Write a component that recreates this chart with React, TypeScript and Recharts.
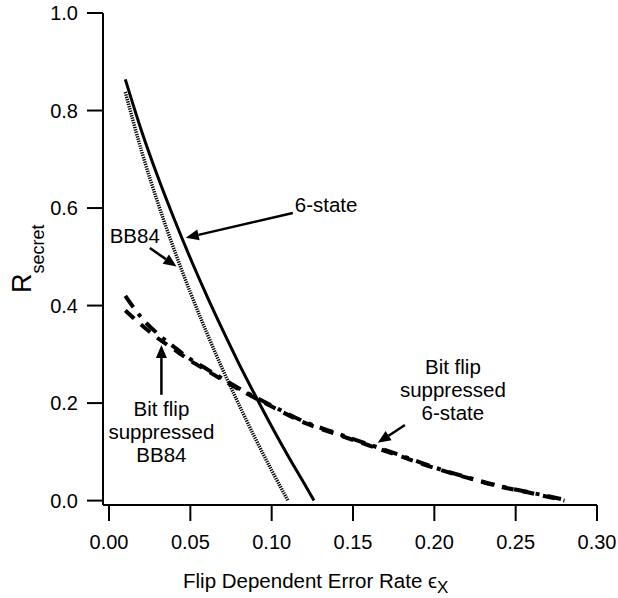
import React from 'react';
import { LineChart, Line, XAxis, YAxis, ReferenceLine, ReferenceDot } from 'recharts';

// x ticks / y ticks
const xTicks = [0, 0.05, 0.1, 0.15, 0.2, 0.25, 0.3];
const yTicks = [0, 0.2, 0.4, 0.6, 0.8, 1.0];

// 6-state (solid)
const sixX = [0.01, 0.02, 0.03, 0.04, 0.05, 0.06, 0.07, 0.08, 0.09, 0.1, 0.11, 0.12, 0.126];
const sixY = [0.864, 0.758, 0.664, 0.578, 0.497, 0.421, 0.349, 0.28, 0.215, 0.152, 0.092, 0.035, 0.0];

// BB84 (dotted)
const bbX = [0.01, 0.02, 0.03, 0.04, 0.05, 0.06, 0.07, 0.08, 0.09, 0.1, 0.11];
const bbY = [0.838, 0.717, 0.611, 0.515, 0.427, 0.345, 0.268, 0.196, 0.127, 0.062, 0.0];

// bit flip suppressed 6-state (dash-dot)
const bfSixX = [0.01, 0.02, 0.03, 0.04, 0.05, 0.06, 0.08, 0.1, 0.12, 0.14, 0.16, 0.18, 0.2, 0.22, 0.24, 0.26, 0.2825];
const bfSixY = [0.42, 0.375, 0.342, 0.315, 0.29, 0.27, 0.23, 0.195, 0.162, 0.138, 0.115, 0.092, 0.068, 0.048, 0.03, 0.016, 0.0];

// bit flip suppressed BB84 (dashed)
const bfBbX = [0.01, 0.02, 0.03, 0.04, 0.05, 0.06, 0.08, 0.1, 0.12, 0.14, 0.16, 0.18, 0.2, 0.22, 0.24, 0.26, 0.28];
const bfBbY = [0.39, 0.36, 0.333, 0.31, 0.287, 0.267, 0.228, 0.193, 0.16, 0.136, 0.113, 0.09, 0.067, 0.047, 0.029, 0.015, 0.0];

const toPoints = (xs: number[], ys: number[]) => xs.map((x, i) => ({ x, y: ys[i] }));

const FONT = 'Liberation Sans, Arial, Helvetica, sans-serif';

const Arrow = (props: any) => {
  const { x1, y1, x2, y2 } = props;
  const a = Math.atan2(y2 - y1, x2 - x1);
  const L = 13;
  const W = 5.5;
  const bx = x2 - L * Math.cos(a);
  const by = y2 - L * Math.sin(a);
  const p1 = `${bx + W * Math.sin(a)},${by - W * Math.cos(a)}`;
  const p2 = `${bx - W * Math.sin(a)},${by + W * Math.cos(a)}`;
  return (
    <g>
      <line x1={x1} y1={y1} x2={bx} y2={by} stroke="#000" strokeWidth={2.5} />
      <polygon points={`${x2},${y2} ${p1} ${p2}`} fill="#000" />
    </g>
  );
};

const textShape = (lines: string[], anchor: string) => (p: any) => (
  <text x={p.cx} y={p.cy} textAnchor={anchor} fontFamily={FONT} fontSize={20.5} fill="#000">
    {lines.map((t, i) => (
      <tspan key={i} x={p.cx} dy={i === 0 ? '0.35em' : 23}>{t}</tspan>
    ))}
  </text>
);

const YLabel = () => (
  <text transform="translate(31,293) rotate(-90)" fontFamily={FONT} fill="#000">
    <tspan fontSize={27}>R</tspan>
    <tspan fontSize={18} dy={13}>secret</tspan>
  </text>
);

const XLabel = () => (
  <text x={183} y={588} fontFamily={FONT} fontSize={20.5} fill="#000">
    <tspan>Flip Dependent Error Rate ϵ</tspan>
    <tspan fontSize={17} dy={5}>X</tspan>
  </text>
);

export default function App() {
  const tickStyle = { fill: '#000', fontSize: 20, fontFamily: FONT };
  return (
    <div style={{ position: 'absolute', left: 0, top: 0 }}>
      <LineChart width={618} height={598} margin={{ top: 13, right: 21, bottom: 33, left: 0 }}>
        <XAxis
          type="number"
          dataKey="x"
          domain={[-0.0037, 0.3]}
          ticks={xTicks}
          tickFormatter={(v: number) => v.toFixed(2)}
          allowDataOverflow
          height={60}
          tickSize={16}
          tickMargin={14}
          stroke="#000"
          strokeWidth={2}
          tick={tickStyle}
          label={{ content: XLabel }}
        />
        <YAxis
          type="number"
          dataKey="y"
          domain={[-0.009, 1.0]}
          ticks={yTicks}
          tickFormatter={(v: number) => v.toFixed(1)}
          allowDataOverflow
          width={103}
          tickSize={16}
          tickMargin={9}
          stroke="#000"
          strokeWidth={2}
          tick={tickStyle}
          label={{ content: YLabel }}
        />
        <Line data={toPoints(bbX, bbY)} dataKey="y" type="monotone" dot={false} stroke="#000" strokeWidth={3.5} strokeDasharray="1.3 1.1" isAnimationActive={false} />
        <Line data={toPoints(sixX, sixY)} dataKey="y" type="monotone" dot={false} stroke="#000" strokeWidth={3} isAnimationActive={false} />
        <Line data={toPoints(bfBbX, bfBbY)} dataKey="y" type="monotone" dot={false} stroke="#000" strokeWidth={4} strokeDasharray="12 9" isAnimationActive={false} />
        <Line data={toPoints(bfSixX, bfSixY)} dataKey="y" type="monotone" dot={false} stroke="#000" strokeWidth={4} strokeDasharray="14 8 4 8" isAnimationActive={false} />

        <ReferenceLine segment={[{ x: 0.113, y: 0.59 }, { x: 0.0472, y: 0.539 }]} shape={Arrow} ifOverflow="visible" />
        <ReferenceLine segment={[{ x: 0.0251, y: 0.518 }, { x: 0.0415, y: 0.48 }]} shape={Arrow} ifOverflow="visible" />
        <ReferenceLine segment={[{ x: 0.0322, y: 0.217 }, { x: 0.0322, y: 0.319 }]} shape={Arrow} ifOverflow="visible" />
        <ReferenceLine segment={[{ x: 0.1819, y: 0.155 }, { x: 0.1652, y: 0.1185 }]} shape={Arrow} ifOverflow="visible" />

        <ReferenceDot x={0.1142} y={0.607} r={0} shape={textShape(['6-state'], 'start')} ifOverflow="visible" />
        <ReferenceDot x={0.0004} y={0.543} r={0} shape={textShape(['BB84'], 'start')} ifOverflow="visible" />
        <ReferenceDot x={0.0322} y={0.189} r={0} shape={textShape(['Bit flip', 'suppressed', 'BB84'], 'middle')} ifOverflow="visible" />
        <ReferenceDot x={0.2114} y={0.274} r={0} shape={textShape(['Bit flip', 'suppressed', '6-state'], 'middle')} ifOverflow="visible" />
      </LineChart>
    </div>
  );
}
